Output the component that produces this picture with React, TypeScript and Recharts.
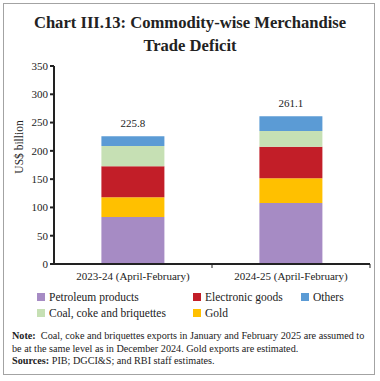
import { Bar, BarChart, LabelList, XAxis, YAxis } from "recharts"

const categories = ["2023-24 (April-February)", "2024-25 (April-February)"]
const petroleum = [83.2, 108.0]
const gold = [34.8, 43.7]
const electronic = [55.0, 55.4]
const coal = [35.4, 27.8]
const others = [17.4, 26.2]
const totals = [225.8, 261.1]
const yTicks = [0, 50, 100, 150, 200, 250, 300, 350]

const series = [
  { key: "petroleum", name: "Petroleum products", color: "#a68bc4", values: petroleum },
  { key: "gold", name: "Gold", color: "#ffc000", values: gold },
  { key: "electronic", name: "Electronic goods", color: "#c21e28", values: electronic },
  { key: "coal", name: "Coal, coke and briquettes", color: "#c6e0b4", values: coal },
  { key: "others", name: "Others", color: "#5b9bd5", values: others },
]

// legend laid out as in the print: 3 columns, 2 rows
const legendRows = [
  ["petroleum", "electronic", "others"],
  ["coal", "gold"],
]
const legendCols = [37, 193, 301]

const data = categories.map((cat, i) => {
  const row: any = { cat, total: totals[i] }
  series.forEach((s) => (row[s.key] = s.values[i]))
  return row
})

const font = "'Liberation Serif', 'DejaVu Serif', serif"
const halfBand = (380 - 54 - 10) / categories.length / 2

function XTick(props: any) {
  const { x, y, payload } = props
  return (
    <g>
      <line x1={x + halfBand} x2={x + halfBand} y1={y - 8} y2={y - 4} stroke="#222" strokeWidth={1} />
      <text x={x} y={y} dy={8} textAnchor="middle" fontSize={11} fill="#222" fontFamily={font}>
        {payload.value}
      </text>
    </g>
  )
}

export default function App() {
  return (
    <div style={{ position: "fixed", left: 0, top: 0, width: 380, height: 381, background: "#fff", fontFamily: font, color: "#222" }}>
      <div style={{ position: "absolute", left: 3, top: 3, width: 370, height: 370, border: "1.5px solid #a3a3a3" }} />
      <div style={{ position: "absolute", left: 0, top: 11, width: 380, textAlign: "center", fontWeight: "bold", fontSize: 16.6, lineHeight: "23px" }}>
        Chart III.13: Commodity-wise Merchandise
        <br />
        Trade Deficit
      </div>
      <div style={{ position: "absolute", left: 0, top: 0 }}>
        <BarChart width={380} height={294} data={data} margin={{ top: 66, right: 10, left: 0, bottom: 0 }} barCategoryGap="30%">
          <XAxis dataKey="cat" height={30} interval={0} stroke="#222" strokeWidth={2} tickLine={false} tick={<XTick />} />
          <YAxis
            width={54}
            domain={[0, 350]}
            ticks={yTicks}
            interval={0}
            stroke="#222"
            strokeWidth={2}
            tickSize={4}
            tick={{ fontSize: 11, fill: "#222", fontFamily: font }}
            label={{ value: "US$ billion", angle: -90, position: "insideLeft", dx: 14, dy: -18, style: { fontSize: 11.5, fill: "#222", fontFamily: font, textAnchor: "middle" } }}
          />
          {series.map((s, i) => (
            <Bar key={s.key} dataKey={s.key} name={s.name} stackId="a" fill={s.color} isAnimationActive={false}>
              {i === series.length - 1 && (
                <LabelList dataKey="total" position="top" offset={9} style={{ fontSize: 11, fill: "#222", fontFamily: font }} />
              )}
            </Bar>
          ))}
        </BarChart>
      </div>
      {legendRows.map((row, r) =>
        row.map((k, c) => {
          const s = series.find((x) => x.key === k)!
          return (
            <div key={k} style={{ position: "absolute", left: legendCols[c], top: 290 + r * 16, height: 14, display: "flex", alignItems: "center", fontSize: 11.5, whiteSpace: "nowrap" }}>
              <span style={{ width: 8, height: 8, background: s.color, marginRight: 4, display: "inline-block" }} />
              {s.name}
            </div>
          )
        })
      )}
      <div style={{ position: "absolute", left: 12, top: 330, fontSize: 10.2, lineHeight: "12.5px", whiteSpace: "nowrap" }}>
        <b>Note:</b>&nbsp; Coal, coke and briquettes exports in January and February 2025 are assumed to
        <br />
        be at the same level as in December 2024. Gold exports are estimated.
        <br />
        <b>Sources:</b> PIB; DGCI&amp;S; and RBI staff estimates.
      </div>
    </div>
  )
}
